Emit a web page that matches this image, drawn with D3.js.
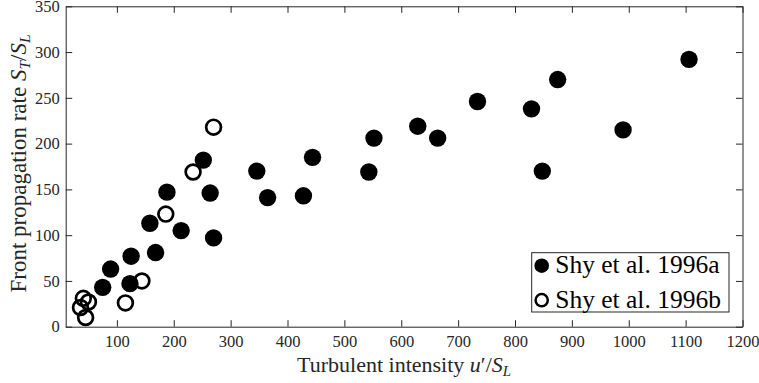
<!DOCTYPE html>
<html>
<head>
<meta charset="utf-8">
<script src="https://cdn.jsdelivr.net/npm/d3@7"></script>
<style>
  body { margin: 0; background: #fff; }
  svg { display: block; font-family: "Liberation Serif", "DejaVu Serif", serif; }
  .axis text { fill: #262626; font-family: "Liberation Serif", "DejaVu Serif", serif; }
  .axis line, .axis path { stroke: #262626; }
</style>
</head>
<body>
<div id="chart"></div>
<script>
// Shy et al. 1996a (filled markers)
const shyAx = [75, 89, 125, 123, 158, 168, 188, 213, 252, 264, 270, 346, 365, 428, 444, 543, 552, 629, 664, 734, 829, 848, 875, 990, 1106]
const shyAy = [43, 63, 77, 47, 113, 81, 147, 105, 182, 146, 97, 170, 141, 143, 185, 169, 206, 219, 206, 246, 238, 170, 270, 215, 292]

// Shy et al. 1996b (open markers)
const shyBx = [36, 41, 50, 45, 115, 144, 186, 234, 270]
const shyBy = [21, 31, 27, 10, 26, 50, 123, 169, 218]

// tick labels
const xTicks = [100, 200, 300, 400, 500, 600, 700, 800, 900, 1000, 1100, 1200]
const yTicks = [0, 50, 100, 150, 200, 250, 300, 350]

const seriesNames = ['Shy et al. 1996a', 'Shy et al. 1996b']

function draw() {
  const datasetA = shyAx.map((x, i) => ({ x: x, y: shyAy[i] }))
  const datasetB = shyBx.map((x, i) => ({ x: x, y: shyBy[i] }))

  const xAccessor = (d) => d.x
  const yAccessor = (d) => d.y

  let dimensions = {
    width: 759,
    height: 383,
    margin: {
      top: 6.3,
      bottom: 56.3,
      left: 65.7,
      right: 16.5
    }
  }
  dimensions.ctrWidth = dimensions.width - dimensions.margin.left - dimensions.margin.right
  dimensions.ctrHeight = dimensions.height - dimensions.margin.top - dimensions.margin.bottom

  const svg = d3.select('#chart')
    .append('svg')
    .attr('width', dimensions.width)
    .attr('height', dimensions.height)

  const ctr = svg.append('g')
    .attr('transform', `translate(${dimensions.margin.left},${dimensions.margin.top})`)

  // scales
  const xScale = d3.scaleLinear()
    .domain([10, 1200])
    .range([0, dimensions.ctrWidth])

  const yScale = d3.scaleLinear()
    .domain([0, 350])
    .range([dimensions.ctrHeight, 0])

  const tickLen = 6.5
  const fmt = d3.format('d')

  // axes, ticks pointing inward, box on
  ctr.append('g')
    .attr('transform', `translate(0,${dimensions.ctrHeight})`)
    .classed('axis', true)
    .call(d3.axisBottom(xScale).tickValues(xTicks).tickFormat(fmt)
      .tickSizeInner(-tickLen).tickSizeOuter(0).tickPadding(9))

  ctr.append('g')
    .classed('axis', true)
    .call(d3.axisTop(xScale).tickValues(xTicks).tickSizeInner(-tickLen).tickSizeOuter(0).tickFormat(''))

  ctr.append('g')
    .classed('axis', true)
    .call(d3.axisLeft(yScale).tickValues(yTicks).tickFormat(fmt)
      .tickSizeInner(-tickLen).tickSizeOuter(0).tickPadding(6))

  ctr.append('g')
    .attr('transform', `translate(${dimensions.ctrWidth},0)`)
    .classed('axis', true)
    .call(d3.axisRight(yScale).tickValues(yTicks).tickSizeInner(-tickLen).tickSizeOuter(0).tickFormat(''))

  // d3 puts sans-serif on axis groups, use the page serif instead
  ctr.selectAll('.axis')
    .attr('font-family', null)
    .attr('font-size', 16.5)
  ctr.selectAll('.axis path').attr('stroke-width', 1)

  // axis labels
  const xLabel = ctr.append('text')
    .attr('x', dimensions.ctrWidth / 2)
    .attr('y', dimensions.ctrHeight + 45.5)
    .attr('text-anchor', 'middle')
    .attr('font-size', 22)
    .attr('fill', '#262626')
  xLabel.append('tspan').text('Turbulent intensity ')
  xLabel.append('tspan').attr('font-style', 'italic').text('u')
  xLabel.append('tspan').text('\u2032/')
  xLabel.append('tspan').attr('font-style', 'italic').text('S')
  xLabel.append('tspan').attr('font-style', 'italic').attr('font-size', 15).attr('dy', 4).text('L')

  const yLabel = ctr.append('text')
    .attr('transform', `translate(${-dimensions.margin.left + 26.5},${dimensions.ctrHeight / 2 - 3}) rotate(-90)`)
    .attr('text-anchor', 'middle')
    .attr('font-size', 23)
    .attr('fill', '#262626')
  yLabel.append('tspan').text('Front propagation rate ')
  yLabel.append('tspan').attr('font-style', 'italic').text('S')
  yLabel.append('tspan').attr('font-style', 'italic').attr('font-size', 15.5).attr('dy', 4).text('T')
  yLabel.append('tspan').attr('dy', -4).text('/')
  yLabel.append('tspan').attr('font-style', 'italic').text('S')
  yLabel.append('tspan').attr('font-style', 'italic').attr('font-size', 15.5).attr('dy', 4).text('L')

  // points
  ctr.append('g').selectAll('circle')
    .data(datasetA)
    .join('circle')
    .attr('cx', d => xScale(xAccessor(d)))
    .attr('cy', d => yScale(yAccessor(d)))
    .attr('r', 8.7)
    .attr('fill', 'black')

  ctr.append('g').selectAll('circle')
    .data(datasetB)
    .join('circle')
    .attr('cx', d => xScale(xAccessor(d)))
    .attr('cy', d => yScale(yAccessor(d)))
    .attr('r', 7.4)
    .attr('fill', 'none')
    .attr('stroke', 'black')
    .attr('stroke-width', 2.7)

  // legend
  const legend = svg.append('g')
    .attr('transform', 'translate(531.7,252.7)')
  legend.append('rect')
    .attr('width', 197.3)
    .attr('height', 59.3)
    .attr('fill', 'white')
    .attr('stroke', '#262626')
    .attr('stroke-width', 1)

  const items = legend.selectAll('.item')
    .data(seriesNames)
    .join('g')
    .attr('transform', (d, i) => `translate(0,${13 + i * 34.5})`)

  items.append('circle')
    .attr('cx', 10)
    .attr('cy', 0)
    .attr('r', (d, i) => i === 0 ? 7.3 : 6.1)
    .attr('fill', (d, i) => i === 0 ? 'black' : 'none')
    .attr('stroke', 'black')
    .attr('stroke-width', (d, i) => i === 0 ? 0 : 2.5)

  items.append('text')
    .attr('x', 23.5)
    .attr('y', 7.5)
    .attr('font-size', 25.5)
    .attr('fill', '#000')
    .text(d => d)
}

draw()
</script>
</body>
</html>
